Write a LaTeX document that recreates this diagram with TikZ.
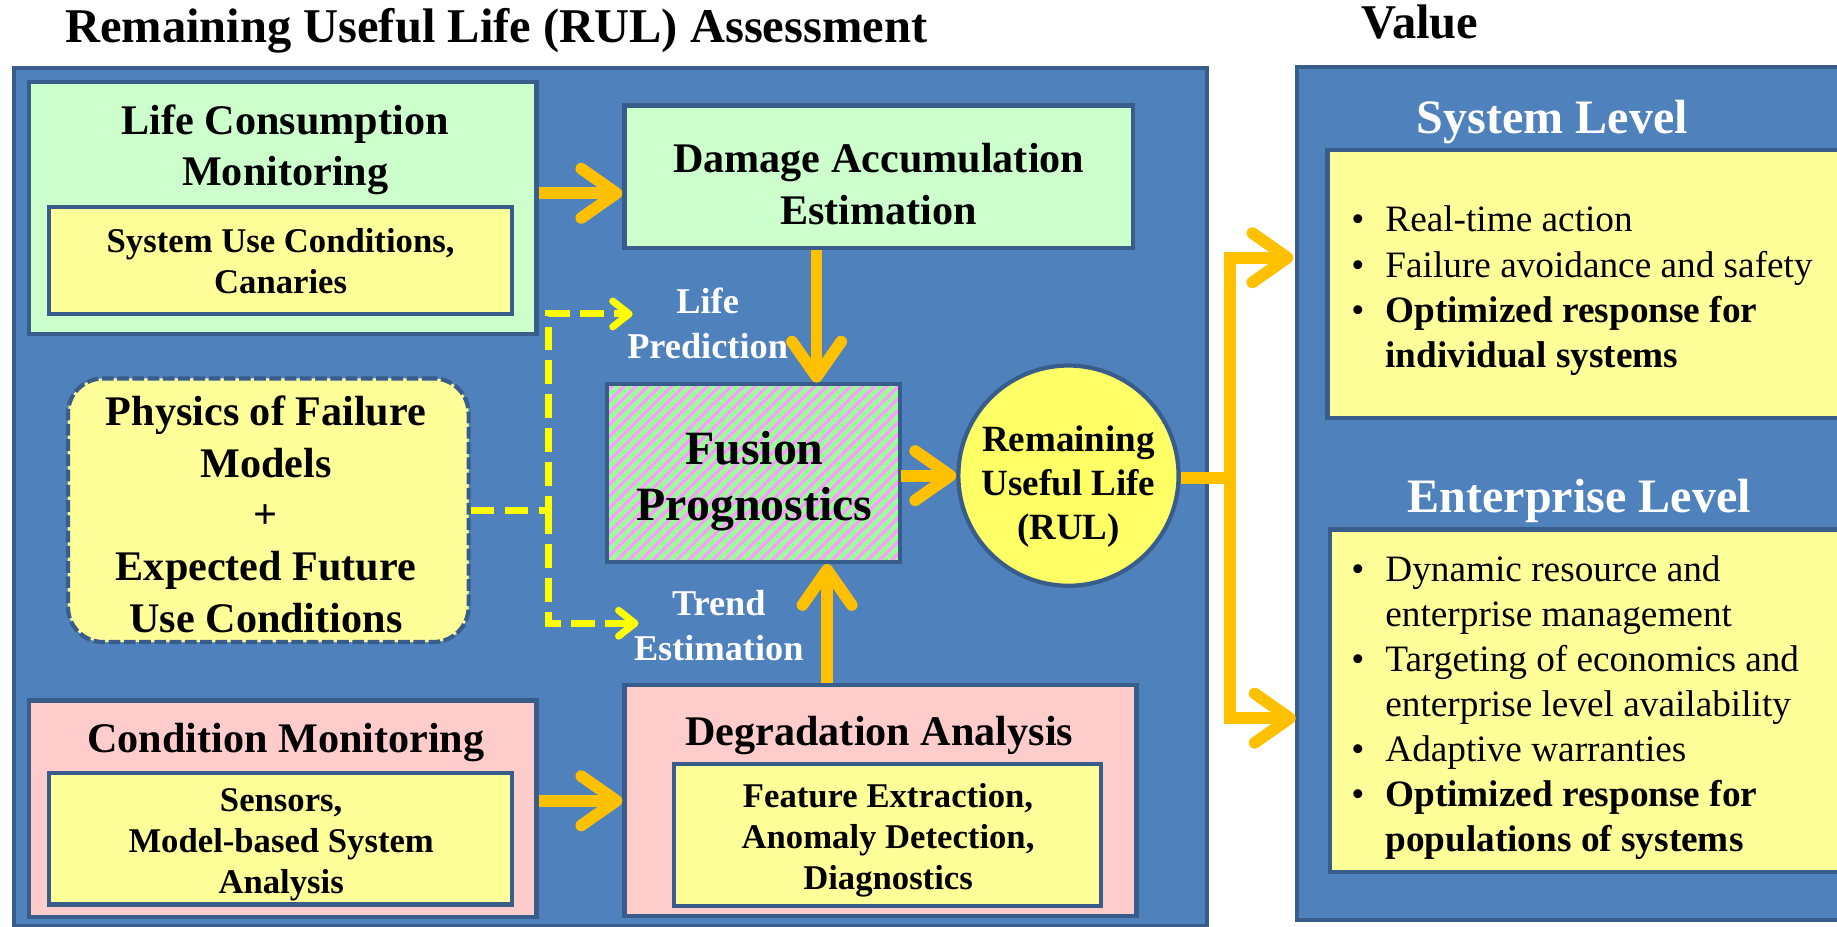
\documentclass[tikz,border=0pt]{standalone}
\usepackage{fontspec}
\setmainfont{Liberation Serif}
\usetikzlibrary{arrows.meta, patterns.meta}

\definecolor{panelblue}{HTML}{4F81BD}
\definecolor{edgeblue}{HTML}{385D8A}
\definecolor{mint}{HTML}{CCFFCC}
\definecolor{cream}{HTML}{FFFF99}
\definecolor{blush}{HTML}{FFCCCC}
\definecolor{amber}{HTML}{FFC000}
\definecolor{lemon}{HTML}{FFFF00}
\definecolor{rulyellow}{HTML}{FFFF66}
\definecolor{stripegreen}{HTML}{99FF99}
\definecolor{stripepink}{HTML}{FF99FF}

\newcommand{\setsz}[2]{\fontsize{#1pt}{#2pt}\selectfont}

\begin{document}
\begin{tikzpicture}
[every node/.style={inner sep=0pt},
 panel/.style={rectangle, fill=panelblue, draw=edgeblue, line width=1.7pt},
 box/.style={rectangle, draw=edgeblue, line width=1.8pt},
 flow/.style={line width=5pt, color=amber, -{Straight Barb[length=15pt, width=21pt, line cap=round, line join=round]}},
 hint/.style={line width=3pt, color=lemon, dash pattern=on 10pt off 4.5pt, -{Straight Barb[length=7pt, width=11pt, line cap=round, line join=round]}},
 head/.style={font=\bfseries\setsz{18}{22}, align=center},
 sub/.style={font=\bfseries\setsz{14.8}{17.5}, align=center},
 tag/.style={font=\bfseries\setsz{15.5}{19}, align=center, text=white},
 level/.style={font=\bfseries\setsz{20.5}{24}, text=white},
 items/.style={anchor=west, font=\setsz{15.9}{19.25}}]
\useasboundingbox [fill=white] (0pt, 0pt) rectangle (784pt, -395.5pt);

% titles
\node (title) [anchor=base, font=\bfseries\setsz{20.7}{24}] at (211.75pt, -18pt) {Remaining Useful Life (RUL) Assessment};
\node (valtitle) [anchor=base, font=\bfseries\setsz{20.7}{24}] at (606pt, -16.5pt) {Value};

% RUL assessment panel
\node (rulpanel) [panel, minimum width=509pt, minimum height=366pt] at (260.5pt, -212pt) {};
\node (lcm) [box, fill=mint, minimum width=216.5pt, minimum height=107.5pt] at (120.75pt, -88.75pt) {};
\node (lcmhead) [head] at (121.75pt, -64pt) {Life Consumption\\Monitoring};
\node (lcmsub) [box, fill=cream, minimum width=197.5pt, minimum height=45.5pt, sub] at (119.75pt, -111.25pt) {System Use Conditions,\\Canaries};
\node (dae) [box, fill=mint, minimum width=217pt, minimum height=61pt] at (375pt, -75.5pt) {};
\node (daehead) [head] at (375pt, -78.5pt) {Damage Accumulation\\Estimation};
\node (pof) [box, fill=cream, rounded corners=15pt, dash pattern=on 5pt off 1.5pt, minimum width=171pt, minimum height=112.5pt] at (114.5pt, -217.75pt) {};
\node (pofhead) [head] at (113.5pt, -219.5pt) {Physics of Failure\\Models\\+\\Expected Future\\Use Conditions};
\node (fusion) [box, preaction={fill=stripegreen}, pattern={Lines[angle=45, distance=3.6pt, line width=1.4pt]}, pattern color=stripepink, minimum width=125pt, minimum height=76pt] at (321.5pt, -202pt) {};
\node (fusionhead) [font=\bfseries\setsz{20.4}{24}, align=center] at (322pt, -205.5pt) {Fusion\\Prognostics};
\node (rul) [circle, fill=rulyellow, draw=edgeblue, line width=1.8pt, minimum size=94pt] at (456pt, -203pt) {};
\node (rulhead) [font=\bfseries\setsz{15.8}{18.75}, align=center] at (456pt, -207.75pt) {Remaining\\Useful Life\\(RUL)};
\node (lifepred) [tag] at (302pt, -138pt) {Life\\Prediction};
\node (trend) [tag] at (306.75pt, -267pt) {Trend\\Estimation};
\node (cm) [box, fill=blush, minimum width=216.5pt, minimum height=92.5pt] at (120.75pt, -345.25pt) {};
\node (cmhead) [head] at (122pt, -317pt) {Condition Monitoring};
\node (cmsub) [box, fill=cream, minimum width=197.5pt, minimum height=56pt] at (119.75pt, -358pt) {};
\node (cmsubtext) [sub] at (120pt, -360.5pt) {Sensors,\\Model-based System\\Analysis};
\node (da) [box, fill=blush, minimum width=218.5pt, minimum height=98.5pt] at (375.75pt, -341.75pt) {};
\node (dahead) [head] at (375.25pt, -314pt) {Degradation Analysis};
\node (dasub) [box, fill=cream, minimum width=182.5pt, minimum height=60.5pt] at (378.75pt, -356.25pt) {};
\node (dasubtext) [sub] at (379pt, -358.75pt) {Feature Extraction,\\Anomaly Detection,\\Diagnostics};

% value panel
\node (valpanel) [panel, minimum width=246.5pt, minimum height=364pt] at (676.75pt, -210.5pt) {};
\node (syshead) [level] at (662.5pt, -52pt) {System Level};
\node (syslist) [box, fill=cream, minimum width=233.5pt, minimum height=114.5pt] at (683.25pt, -121.25pt) {};
\node (systext) [items] at (576.5pt, -124pt) {\begin{tabular}{@{}l@{\hspace{9pt}}l@{}}
\textbullet & Real-time action\\
\textbullet & Failure avoidance and safety\\
\textbullet & \textbf{Optimized response for}\\
 & \textbf{individual systems}
\end{tabular}};
\node (enthead) [level] at (674pt, -214pt) {Enterprise Level};
\node (entlist) [box, fill=cream, minimum width=232.5pt, minimum height=146pt] at (683.75pt, -299pt) {};
\node (enttext) [items] at (576.5pt, -302pt) {\begin{tabular}{@{}l@{\hspace{9pt}}l@{}}
\textbullet & Dynamic resource and\\
 & enterprise management\\
\textbullet & Targeting of economics and\\
 & enterprise level availability\\
\textbullet & Adaptive warranties\\
\textbullet & \textbf{Optimized response for}\\
 & \textbf{populations of systems}
\end{tabular}};

% connectors
\coordinate (daein) at ([yshift=-7pt]dae.west);
\coordinate (daeout) at ([xshift=-26.5pt]dae.south);
\coordinate (daup) at ([xshift=-22.75pt]da.north);
\coordinate (fork) at (525pt, -204pt);
\coordinate (systip) at (552pt, -110pt);
\coordinate (enttip) at (553pt, -306.5pt);
\coordinate (dashfork) at (234pt, -217.75pt);
\coordinate (lifetip) at (270pt, -134pt);
\coordinate (trendtip) at (272.5pt, -266pt);

\draw [flow] (lcm.east |- daein) -- (daein);
\draw [flow] (daeout) -- (daeout |- fusion.north);
\draw [flow] (daup) -- (daup |- fusion.south);
\draw [flow] (cm.east |- da.west) -- (da.west);
\draw [flow] (fusion.east |- rul.west) -- (rul.west);
\draw [flow] (rul.east |- fork) -- (fork) |- (systip);
\draw [flow] (fork) |- (enttip);
\draw [hint] (pof.east) -- (dashfork) |- (lifetip);
\draw [hint] (dashfork) |- (trendtip);
\end{tikzpicture}
\end{document}
